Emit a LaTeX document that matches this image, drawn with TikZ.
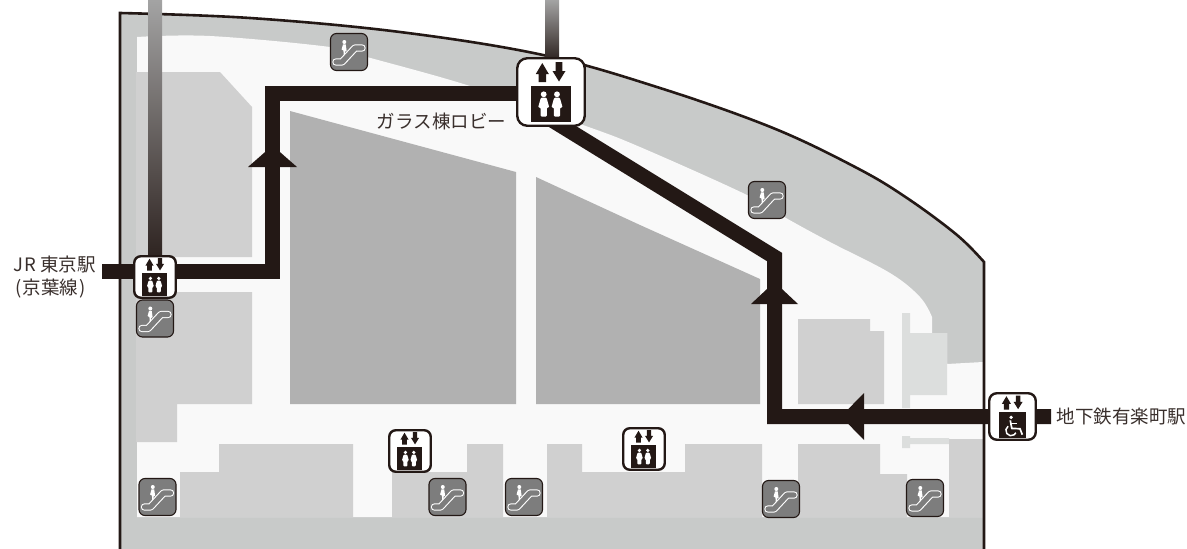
\documentclass[tikz,border=0pt]{standalone}
\usepackage{fontspec}
\newfontfamily\jpf{Noto Sans CJK JP}
\definecolor{ink}{HTML}{231815}
\definecolor{band}{HTML}{C8CAC9}
\definecolor{floorw}{HTML}{F9F9F9}
\definecolor{roomg}{HTML}{D0D0D0}
\definecolor{roomd}{HTML}{B1B1B1}
\definecolor{roomp}{HTML}{DCDEDD}
\definecolor{escg}{HTML}{7D7D7D}
\tikzset{
  route/.style={draw=ink,line width=15pt,line join=miter},
  head/.style={fill=ink},
  shaft/.style={top color=black!36,bottom color=ink!95},
  liftbox/.style={draw=ink,fill=white,line width=2.4pt,rounded corners=#1,inner sep=0pt},
  escbox/.style={draw=ink,fill=escg,line width=1.1pt,rounded corners=6pt,inner sep=0pt,minimum size=37pt},
  lbl/.style={font=\jpf\fontsize{18.5}{23}\selectfont,text=ink!90,inner sep=0pt}
}
\newcommand\liftsymbols[3]{%
  \begin{scope}[shift={(#1,#2)},scale=#3]
    \fill[ink] (-8.7,-29) -- (-2.2,-18) -- (-5,-18) -- (-5,-10) -- (-12.5,-10) -- (-12.5,-18) -- (-15.2,-18) -- cycle;
    \fill[ink] (8,-10.5) -- (1.5,-21) -- (4.7,-21) -- (4.7,-30) -- (11.3,-30) -- (11.3,-21) -- (14.5,-21) -- cycle;
    \fill[ink] (-20,-6) rectangle (19.5,30);
  \end{scope}}
\newcommand\people[3]{%
  \begin{scope}[shift={(#1,#2)},scale=#3]
    \foreach \q in {-7.3,6}{
      \fill[white] (\q,2.3) circle (2.9);
      \fill[white,rounded corners=1pt] (\q-2.8,5.6) -- (\q+2.8,5.6) -- (\q+5.6,15.5) -- (\q+3.2,15.5) -- (\q+3.2,24.5) -- (\q-3.2,24.5) -- (\q-3.2,15.5) -- (\q-5.6,15.5) -- cycle;
    }
  \end{scope}}
\newcommand\escglyph[2]{%
  \begin{scope}[shift={(#1,#2)}]
    \draw[white,line width=7.4pt,line cap=round,line join=round] (-13,10) -- (-7,10) -- (6,-4) -- (13,-4);
    \draw[escg,line width=5.2pt,line cap=round,line join=round] (-13,10) -- (-7,10) -- (6,-4) -- (13,-4);
    \fill[white] (-4.7,-10) circle (2);
    \fill[white] (-6,-7.6) -- (-3.3,-7.6) -- (-2.4,-1.5) -- (-3.8,-0.5) -- (-4.2,3) -- (-5.2,3) -- (-5.6,-1.5) -- (-7.4,-2.5) -- cycle;
  \end{scope}}
\begin{document}
\begin{tikzpicture}[x=1pt,y=-1pt]
\useasboundingbox (0,0) rectangle (1187,549);
% building
\fill[band] (120,549) -- (120,13) -- plot[smooth,tension=.6] coordinates {(120,13)(250,18)(400,32)(543,55)(660,88)(773,128)(857,168)(907,198)(957,235)(984,262)} -- (984,549) -- cycle;
% floor
\fill[floorw] (137,517) -- (137,37) -- plot[smooth,tension=.6] coordinates {(137,37)(210,36)(330,47)(367,57)(470,86)(583,125)(640,147)(747,195)(786,218)(830,242)(890,273)(920,297)(932,317)} -- (932,333) -- (947,333) -- (947,364) -- (983,362) -- (983,517) -- cycle;
% rooms
\fill[roomg] (136,72) -- (220,72) -- (252,107) -- (252,257) -- (136,257) -- cycle;
\fill[roomg] (136,292) -- (252,292) -- (252,404) -- (177,404) -- (177,442) -- (136,442) -- cycle;
\fill[roomd] (290,111) -- (516,172) -- (516,404) -- (290,404) -- cycle;
\fill[roomd] (536,177) -- (640,225) -- (760,279) -- (760,404) -- (536,404) -- cycle;
\fill[roomg] (798,319) -- (870,319) -- (870,331) -- (884,331) -- (884,404) -- (798,404) -- cycle;
\fill[roomp] (902,313) -- (910,313) -- (910,333) -- (947,333) -- (947,395) -- (910,395) -- (910,408) -- (902,408) -- cycle;
\fill[roomp] (902,436) -- (910,436) -- (910,438) -- (949,438) -- (949,444) -- (910,444) -- (910,448) -- (902,448) -- cycle;
\fill[roomg] (949,439) -- (983,439) -- (983,517) -- (949,517) -- cycle;
\fill[roomg] (180,517) -- (180,472) -- (219,472) -- (219,444) -- (353,444) -- (353,517) -- cycle;
\fill[roomg] (392,517) -- (392,472) -- (467,472) -- (467,444) -- (503,444) -- (503,517) -- cycle;
\fill[roomg] (547,517) -- (547,444) -- (582,444) -- (582,472) -- (685,472) -- (685,444) -- (762,444) -- (762,517) -- cycle;
\fill[roomg] (798,517) -- (798,444) -- (880,444) -- (880,474) -- (907,474) -- (907,517) -- cycle;
% outline
\draw[ink,line width=2.6pt,line join=miter] (120,549) -- (120,13) -- plot[smooth,tension=.6] coordinates {(120,13)(250,18)(400,32)(543,55)(660,88)(773,128)(857,168)(907,198)(957,235)(984,262)} -- (984,549);
% shafts
\fill[shaft] (148,0) rectangle (162,257);
\fill[shaft] (545,0) rectangle (559,60);
% route coordinates
\coordinate (jrend) at (102,271.5);
\coordinate (c1) at (272.5,271.5);
\coordinate (c2) at (272.5,93.5);
\coordinate (gl) at (551,93.5);
\coordinate (gs) at (540,112.7);
\coordinate (c3) at (774.5,257);
\coordinate (c4) at (774.5,416.5);
\coordinate (yend) at (1051,416.5);
\draw[route] (jrend) -- (c1) -- (c2) -- (gl);
\draw[route] (gs) -- (c3) -- (c4) -- (yend);
% direction heads
\fill[head] (272.5,145.5) -- (297,167) -- (248,167) -- cycle;
\fill[head] (774.5,282) -- (798,304) -- (751,304) -- cycle;
\fill[head] (841,416.5) -- (864,393) -- (864,440) -- cycle;
% lifts
\node[liftbox=6.5pt,minimum size=41.5pt] (jrlift) at (155,277) {};
\liftsymbols{155}{277}{.63}\people{155}{277}{.63}
\node[liftbox=10pt,minimum size=67.5pt] (glasslift) at (551,92) {};
\liftsymbols{551}{92}{1}\people{551}{92}{1}
\node[liftbox=6.5pt,minimum size=41.5pt] (liftb) at (410,451) {};
\liftsymbols{410}{451}{.63}\people{410}{451}{.63}
\node[liftbox=6.5pt,minimum size=41.5pt] (liftc) at (644,449) {};
\liftsymbols{644}{449}{.63}\people{644}{449}{.63}
\node[liftbox=7.5pt,minimum size=46.5pt] (yurakulift) at (1012.5,416.5) {};
\liftsymbols{1012.5}{416.5}{.7}
\begin{scope}[shift={(1012.5,416.5)},scale=.7]
  \fill[white] (-2,1.2) circle (2.6);
  \draw[white,line width=1.7pt] (-3.2,5.5) -- (-1,17) -- (10.7,17.5) -- (14,26);
  \draw[white,line width=1.4pt] (-3.4,10) -- (7,10);
  \draw[white,line width=1.5pt] (-2,20) ++(235:7.5) arc[start angle=235,end angle=25,radius=7.5];
\end{scope}
% escalators
\foreach \n/\x/\y in {esca/349/52,escb/767/200,escc/155/318.5,escd/157.5/497,esce/447.5/497,escf/524/497,escg/781/499,esch/925/498}{
  \node[escbox] (\n) at (\x,\y) {};
  \escglyph{\x}{\y}
}
% labels
\node[lbl] (glasslabel) at (441.5,121) {ガラス棟ロビー};
\node[lbl] (yurakulabel) at (1121.5,416.5) {地下鉄有楽町駅};
\node[lbl,align=left,anchor=west] (jrlabel) at (13,277.5) {J\kern1.5pt R 東京駅\\\kern2pt(\kern1.5pt 京葉線\kern1.5pt)};
\end{tikzpicture}
\end{document}
